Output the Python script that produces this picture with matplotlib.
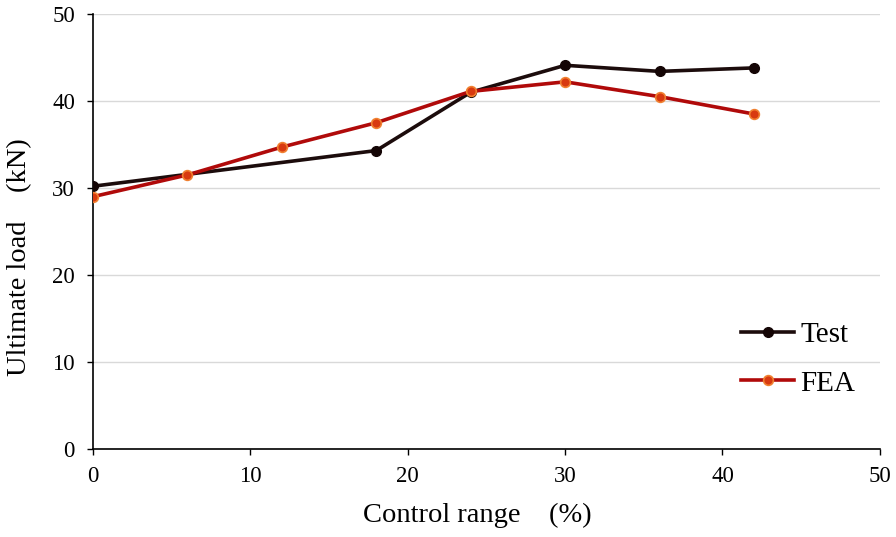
import matplotlib.pyplot as plt

plt.rcParams['font.family'] = ['Liberation Serif', 'DejaVu Serif']

# values
test_x = [0, 18, 24, 30, 36, 42]
test_y = [30.2, 34.3, 41.0, 44.1, 43.4, 43.8]
fea_x = [0, 6, 12, 18, 24, 30, 36, 42]
fea_y = [29.0, 31.5, 34.7, 37.5, 41.1, 42.2, 40.5, 38.5]

fig = plt.figure(figsize=(8.96, 5.37), dpi=100)
ax = fig.add_axes([0.1038, 0.1639, 0.8782, 0.8101])

ax.plot(test_x, test_y, color='#1c0c0c', lw=2.6, marker='o', ms=7,
        mfc='#140505', mec='#140505', label='Test', zorder=3)
ax.plot(fea_x, fea_y, color='#b00a0a', lw=2.6, marker='o', ms=7,
        mfc='#d83a10', mec='#f08030', mew=1.2, label='FEA', zorder=4)

ax.set_xlim(0, 50)
ax.set_ylim(0, 50)
ax.set_xticks(range(0, 51, 10))
ax.set_yticks(range(0, 51, 10))
ax.yaxis.grid(True, color='#d9d9d9', lw=1)
ax.set_axisbelow(True)
for s in ['top', 'right']:
    ax.spines[s].set_visible(False)
ax.spines['left'].set_linewidth(1.2)
ax.spines['bottom'].set_linewidth(1.2)
ax.tick_params(labelsize=16.5, length=4, width=1)
ax.tick_params(axis='y', pad=9)
ax.tick_params(axis='x', pad=8)

ax.set_xlabel('Control range\u3000(%)', fontsize=20.5,
              family=['Liberation Serif', 'Noto Sans CJK SC'])
ax.set_ylabel('Ultimate load\u3000(kN)', fontsize=20.5,
              family=['Liberation Serif', 'Noto Sans CJK SC'])
ax.xaxis.set_label_coords(0.488, -0.124)
ax.yaxis.set_label_coords(-0.077, 0.44)

leg = ax.legend(loc='lower right', bbox_to_anchor=(1.002, 0.06), frameon=False,
                fontsize=21, handlelength=1.85, labelspacing=0.75, handletextpad=0.2)

plt.savefig('out.png', dpi=100)
